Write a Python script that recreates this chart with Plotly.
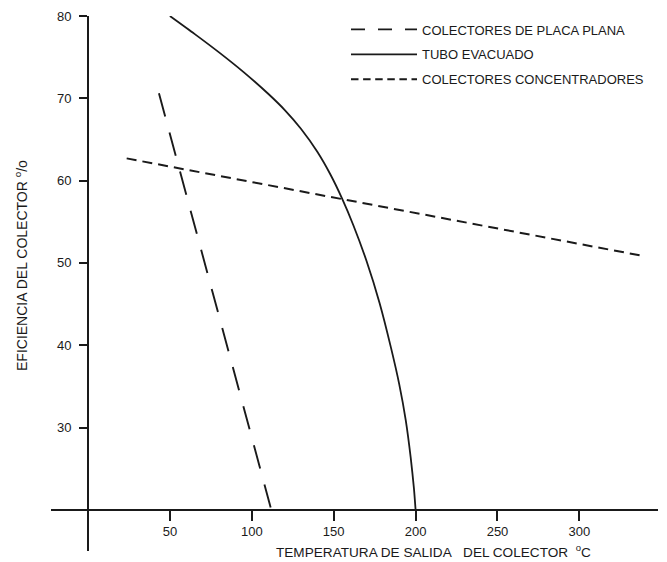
import plotly.graph_objects as go

# ---- data ----
flat_temp = [43.3, 111.5]
flat_eff = [70.6, 20.3]

tube_temp = [50, 65, 80, 95, 110, 120, 130, 140, 148, 155, 162, 170, 178, 185, 190, 194, 197, 199, 200]
tube_eff = [80, 77.83, 75.58, 73.18, 70.55, 68.6, 66.3, 63.5, 60.74, 57.87, 54.58, 50.26,
            45.14, 39.68, 35.28, 30.88, 26.38, 22.58, 20.0]

conc_temp = [23.6, 337.4]
conc_eff = [62.7, 50.9]

x_ticks = [50, 100, 150, 200, 250, 300]
y_ticks = [30, 40, 50, 60, 70, 80]

series_names = ["COLECTORES DE PLACA PLANA", "TUBO EVACUADO", "COLECTORES CONCENTRADORES"]

x_title = "TEMPERATURA DE SALIDA\u00a0\u00a0 DEL COLECTOR\u00a0\u00a0<sup>o</sup>C"
y_title = "EFICIENCIA DEL COLECTOR <sup>o</sup>/o"

# ---- figure ----
FONT = "Liberation Sans, Arial, Helvetica, sans-serif"
INK = "#1a1a1a"

X_RANGE = [-22.6, 348.0]
Y_RANGE = [15.0, 80.0]

# page body has an 8px default margin, so the figure is a little smaller
W, H = 659, 554
ML, MT, MR, MB = 43, 8, 9, 11
PW, PH = W - ML - MR, H - MT - MB


def px_x(px):  # window pixel -> paper fraction
    return (px - 8 - ML) / PW


def px_y(py):
    return (H - MB - (py - 8)) / PH


# line styles: (plot dash, legend-sample dash, width, shape)
styles = [
    ("24px,16.5px", "14px,13px", 1.9, "linear"),
    ("solid", "solid", 1.8, "spline"),
    ("10px,6px", "7.5px,4.6px", 2.0, "linear"),
]
series = [(flat_temp, flat_eff), (tube_temp, tube_eff), (conc_temp, conc_eff)]

fig = go.Figure()
for i, ((xs, ys), (dash, ldash, w, shape)) in enumerate(zip(series, styles)):
    grp = "g%d" % i
    fig.add_trace(go.Scatter(
        x=xs, y=ys, mode="lines", name=series_names[i], legendgroup=grp,
        showlegend=False,
        line=dict(color=INK, width=w, dash=dash, shape=shape,
                  **({"smoothing": 0.6} if shape == "spline" else {}))))
    # legend entry with the shorter dash used in the reference key
    fig.add_trace(go.Scatter(
        x=[None], y=[None], mode="lines", name=series_names[i], legendgroup=grp,
        showlegend=True, hoverinfo="skip",
        line=dict(color=INK, width=1.8, dash=ldash)))

tickfont = dict(family=FONT, size=13, color=INK)

fig.update_layout(
    width=W, height=H,
    margin=dict(l=ML, r=MR, t=MT, b=MB, autoexpand=False),
    paper_bgcolor="white", plot_bgcolor="white",
    font=dict(family=FONT, size=13, color=INK),
    xaxis=dict(
        range=X_RANGE, anchor="free",
        position=(20 - Y_RANGE[0]) / (Y_RANGE[1] - Y_RANGE[0]),
        showline=True, linecolor=INK, linewidth=2,
        ticks="outside", ticklen=10, tickwidth=1.6, tickcolor=INK,
        tickvals=x_ticks, ticktext=[str(v) for v in x_ticks],
        showgrid=False, zeroline=False, tickfont=tickfont, fixedrange=True,
        ticklabeloverflow="allow"),
    yaxis=dict(
        range=Y_RANGE, anchor="free",
        position=(0 - X_RANGE[0]) / (X_RANGE[1] - X_RANGE[0]),
        showline=True, linecolor=INK, linewidth=2,
        ticks="outside", ticklen=8, tickwidth=1.6, tickcolor=INK,
        tickvals=y_ticks, ticktext=[str(v) for v in y_ticks],
        showgrid=False, zeroline=False, tickfont=tickfont, ticklabelstandoff=5,
        fixedrange=True, ticklabeloverflow="allow"),
    showlegend=True,
    legend=dict(
        x=px_x(346), y=px_y(14.5), xanchor="left", yanchor="top",
        bgcolor="rgba(0,0,0,0)", borderwidth=0,
        font=dict(family=FONT, size=13, color=INK),
        itemwidth=66, traceorder="grouped", tracegroupgap=5),
    annotations=[
        dict(text=x_title, xref="paper", yref="paper",
             x=px_x(433), y=px_y(551), xanchor="center", yanchor="middle",
             showarrow=False, font=dict(family=FONT, size=13.6, color=INK)),
        dict(text=y_title, xref="paper", yref="paper",
             x=px_x(21), y=px_y(266), xanchor="center", yanchor="middle",
             textangle=-90, showarrow=False, font=dict(family=FONT, size=14, color=INK)),
    ],
)

fig.write_html("out.html")
